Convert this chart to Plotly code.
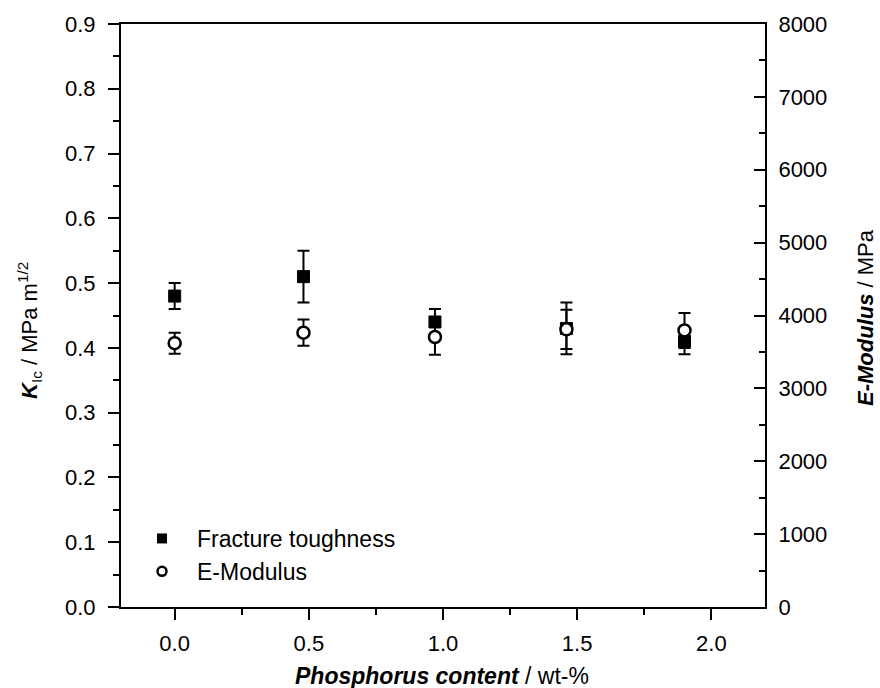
import plotly.graph_objects as go

# ---- data ----
p_content = [0.0, 0.48, 0.97, 1.46, 1.90]
k_ic = [0.48, 0.51, 0.44, 0.43, 0.41]
k_ic_err = [0.02, 0.04, 0.02, 0.04, 0.02]
e_mod = [3620, 3765, 3705, 3810, 3795]
e_mod_err = [145, 180, 245, 270, 240]

FONT = "Liberation Sans, Arial, sans-serif"
L, R, T, B = 121, 115, 24, 81
W, H = 880, 688
PW = W - L - R
PH = H - T - B

fig = go.Figure()

fig.add_trace(go.Scatter(
    x=p_content, y=k_ic, mode="markers", name="Fracture toughness", showlegend=False,
    marker=dict(symbol="square", size=12, color="black", line=dict(color="black", width=1)),
    error_y=dict(type="data", array=k_ic_err, color="black", thickness=2, width=6),
    yaxis="y",
))
fig.add_trace(go.Scatter(
    x=p_content, y=e_mod, mode="markers", name="E-Modulus", showlegend=False,
    marker=dict(symbol="circle", size=12, color="white", line=dict(color="black", width=2.5)),
    error_y=dict(type="data", array=e_mod_err, color="black", thickness=2, width=6),
    yaxis="y2",
))
# legend entries
fig.add_trace(go.Scatter(
    x=[None], y=[None], mode="markers", name="Fracture toughness",
    marker=dict(symbol="square", size=10, color="black"),
))
fig.add_trace(go.Scatter(
    x=[None], y=[None], mode="markers", name="E-Modulus",
    marker=dict(symbol="circle", size=9, color="white", line=dict(color="black", width=2.5)),
))

axis_common = dict(showgrid=False, zeroline=False, showline=True, linecolor="black",
                   linewidth=2, tickcolor="black", tickwidth=2,
                   tickfont=dict(family=FONT, size=22, color="black"))

fig.update_layout(
    width=W, height=H,
    margin=dict(l=L, r=R, t=T, b=B, pad=0),
    paper_bgcolor="white", plot_bgcolor="white",
    font=dict(family=FONT, color="black"),
    xaxis=dict(range=[-0.2, 2.2], dtick=0.5, tick0=0, tickformat=".1f", ticks="outside",
               ticklen=11, mirror=True,
               minor=dict(dtick=0.25, tick0=0, ticks="outside", ticklen=6, tickwidth=2, tickcolor="black"),
               ticklabelstandoff=5,
               **axis_common),
    yaxis=dict(range=[0, 0.9], dtick=0.1, tick0=0, tickformat=".1f", ticks="outside",
               ticklen=11,
               minor=dict(dtick=0.05, tick0=0, ticks="outside", ticklen=6, tickwidth=2, tickcolor="black"),
               ticklabelstandoff=8,
               **axis_common),
    yaxis2=dict(range=[0, 8000], dtick=1000, tick0=0, overlaying="y", side="right",
                ticks="inside", ticklen=11,
                minor=dict(dtick=500, tick0=0, ticks="inside", ticklen=6, tickwidth=2, tickcolor="black"),
                ticklabelstandoff=7,
                **axis_common),
    legend=dict(x=(127 - L) / PW, y=1 - (517 - T) / PH, xanchor="left", yanchor="top",
                bgcolor="rgba(0,0,0,0)", font=dict(family=FONT, size=23, color="black"),
                tracegroupgap=0, itemwidth=60),
    showlegend=True,
)

fig.add_annotation(
    text="<b><i>Phosphorus content</i></b> / wt-%", xref="paper", yref="paper",
    x=(442 - L) / PW, y=1 - (676 - T) / PH, showarrow=False,
    font=dict(family=FONT, size=23, color="black"), xanchor="center", yanchor="middle",
)
fig.add_annotation(
    text="<b><i>K</i></b><sub>Ic</sub> / MPa m<sup>1/2</sup>", xref="paper", yref="paper",
    x=(29 - L) / PW, y=1 - (331 - T) / PH, showarrow=False, textangle=-90,
    font=dict(family=FONT, size=22, color="black"), xanchor="center", yanchor="middle",
)
fig.add_annotation(
    text="<b><i>E-Modulus</i></b> / MPa", xref="paper", yref="paper",
    x=(865 - L) / PW, y=1 - (318 - T) / PH, showarrow=False, textangle=-90,
    font=dict(family=FONT, size=22, color="black"), xanchor="center", yanchor="middle",
)

fig.write_html("out.html")
